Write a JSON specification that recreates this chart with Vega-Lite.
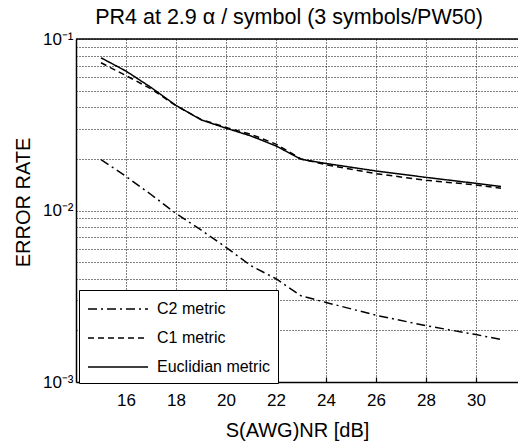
{
  "$schema": "https://vega.github.io/schema/vega-lite/v6.json",
  "width": 442,
  "height": 343,
  "autosize": {"type": "none"},
  "padding": {"left": 76, "top": 39, "right": 0, "bottom": 59},
  "background": "white",
  "config": {"view": {"stroke": null}, "font": "Liberation Sans"},
  "title": {"text": "PR4 at 2.9 α / symbol (3 symbols/PW50)", "fontSize": 21.5, "fontWeight": "normal", "font": "Liberation Sans", "color": "black", "anchor": "middle", "dx": -8, "offset": 2},
  "layer": [
    {
      "data": {"values": [
        {"x": 15, "metric": "Euclidian metric", "rate": 0.0777},
        {"x": 16, "metric": "Euclidian metric", "rate": 0.065},
        {"x": 17, "metric": "Euclidian metric", "rate": 0.0522},
        {"x": 18, "metric": "Euclidian metric", "rate": 0.041},
        {"x": 19, "metric": "Euclidian metric", "rate": 0.0338},
        {"x": 20, "metric": "Euclidian metric", "rate": 0.0302},
        {"x": 21, "metric": "Euclidian metric", "rate": 0.0272},
        {"x": 22, "metric": "Euclidian metric", "rate": 0.0238},
        {"x": 23, "metric": "Euclidian metric", "rate": 0.0199},
        {"x": 24, "metric": "Euclidian metric", "rate": 0.0188},
        {"x": 26, "metric": "Euclidian metric", "rate": 0.017},
        {"x": 28, "metric": "Euclidian metric", "rate": 0.0156},
        {"x": 30, "metric": "Euclidian metric", "rate": 0.0144},
        {"x": 31, "metric": "Euclidian metric", "rate": 0.0138},
        {"x": 15, "metric": "C1 metric", "rate": 0.0727},
        {"x": 16, "metric": "C1 metric", "rate": 0.0612},
        {"x": 17, "metric": "C1 metric", "rate": 0.0512},
        {"x": 18, "metric": "C1 metric", "rate": 0.0408},
        {"x": 19, "metric": "C1 metric", "rate": 0.034},
        {"x": 20, "metric": "C1 metric", "rate": 0.0305},
        {"x": 21, "metric": "C1 metric", "rate": 0.0278},
        {"x": 22, "metric": "C1 metric", "rate": 0.0244},
        {"x": 23, "metric": "C1 metric", "rate": 0.02},
        {"x": 24, "metric": "C1 metric", "rate": 0.0185},
        {"x": 26, "metric": "C1 metric", "rate": 0.0164},
        {"x": 28, "metric": "C1 metric", "rate": 0.015},
        {"x": 30, "metric": "C1 metric", "rate": 0.0141},
        {"x": 31, "metric": "C1 metric", "rate": 0.0135},
        {"x": 15, "metric": "C2 metric", "rate": 0.0198},
        {"x": 16, "metric": "C2 metric", "rate": 0.0158},
        {"x": 17, "metric": "C2 metric", "rate": 0.0124},
        {"x": 18, "metric": "C2 metric", "rate": 0.0096},
        {"x": 19, "metric": "C2 metric", "rate": 0.0077},
        {"x": 20, "metric": "C2 metric", "rate": 0.0061},
        {"x": 21, "metric": "C2 metric", "rate": 0.00476},
        {"x": 22, "metric": "C2 metric", "rate": 0.004},
        {"x": 23, "metric": "C2 metric", "rate": 0.00318},
        {"x": 24, "metric": "C2 metric", "rate": 0.00291},
        {"x": 26, "metric": "C2 metric", "rate": 0.00245},
        {"x": 28, "metric": "C2 metric", "rate": 0.00213},
        {"x": 30, "metric": "C2 metric", "rate": 0.00189},
        {"x": 31, "metric": "C2 metric", "rate": 0.00177}
      ]},
      "mark": {"type": "line", "color": "black", "strokeWidth": 1.5},
      "encoding": {
        "x": {"field": "x", "type": "quantitative",
          "scale": {"domain": [14, 31.68], "nice": false, "zero": false},
          "axis": {"values": [16, 18, 20, 22, 24, 26, 28, 30], "title": "S(AWG)NR [dB]", "titleFontSize": 20, "titleFontWeight": "normal", "titleColor": "black", "titlePadding": 12,
            "labelFontSize": 17, "labelColor": "black", "labelPadding": 15, "ticks": true, "tickSize": -5, "tickColor": "black", "tickWidth": 1.2,
            "grid": true, "gridColor": "black", "gridDash": [1, 2], "gridOpacity": 1, "domainColor": "black", "domainWidth": 1.5}},
        "y": {"field": "rate", "type": "quantitative",
          "scale": {"type": "log", "domain": [0.001, 0.1], "nice": false},
          "axis": {"values": [0.001, 0.002, 0.003, 0.004, 0.005, 0.006, 0.007, 0.008, 0.009, 0.01, 0.02, 0.03, 0.04, 0.05, 0.06, 0.07, 0.08, 0.09, 0.1],
            "labelExpr": "datum.value == 0.1 ? '10⁻¹' : datum.value == 0.01 ? '10⁻²' : datum.value == 0.001 ? '10⁻³' : ''",
            "title": "ERROR RATE", "titleFontSize": 20, "titleFontWeight": "normal", "titleColor": "black", "titlePadding": 9, "titleY": 163,
            "labelFontSize": 17, "labelColor": "black", "labelPadding": 3, "ticks": false,
            "grid": true, "gridColor": "black", "gridDash": [1, 2], "gridOpacity": 1, "domainColor": "black", "domainWidth": 1.5}},
        "strokeDash": {"field": "metric", "type": "nominal",
          "scale": {"domain": ["C2 metric", "C1 metric", "Euclidian metric"], "range": [[9, 4, 2, 4], [6, 4], [1, 0]]},
          "legend": {"title": null, "orient": "none", "legendX": 3, "legendY": 251, "strokeColor": "black", "fillColor": "white", "padding": 8,
            "labelFontSize": 16, "labelColor": "black", "symbolType": "M-1,0H5", "symbolSize": 400, "symbolStrokeWidth": 1.5, "symbolStrokeColor": "black", "rowPadding": 10, "labelOffset": 48}}
      }
    },
    {
      "data": {"values": [{"top": 0.1}]},
      "mark": {"type": "rule", "color": "black", "strokeWidth": 1.5},
      "encoding": {"y": {"field": "top", "type": "quantitative"}}
    }
  ]
}
